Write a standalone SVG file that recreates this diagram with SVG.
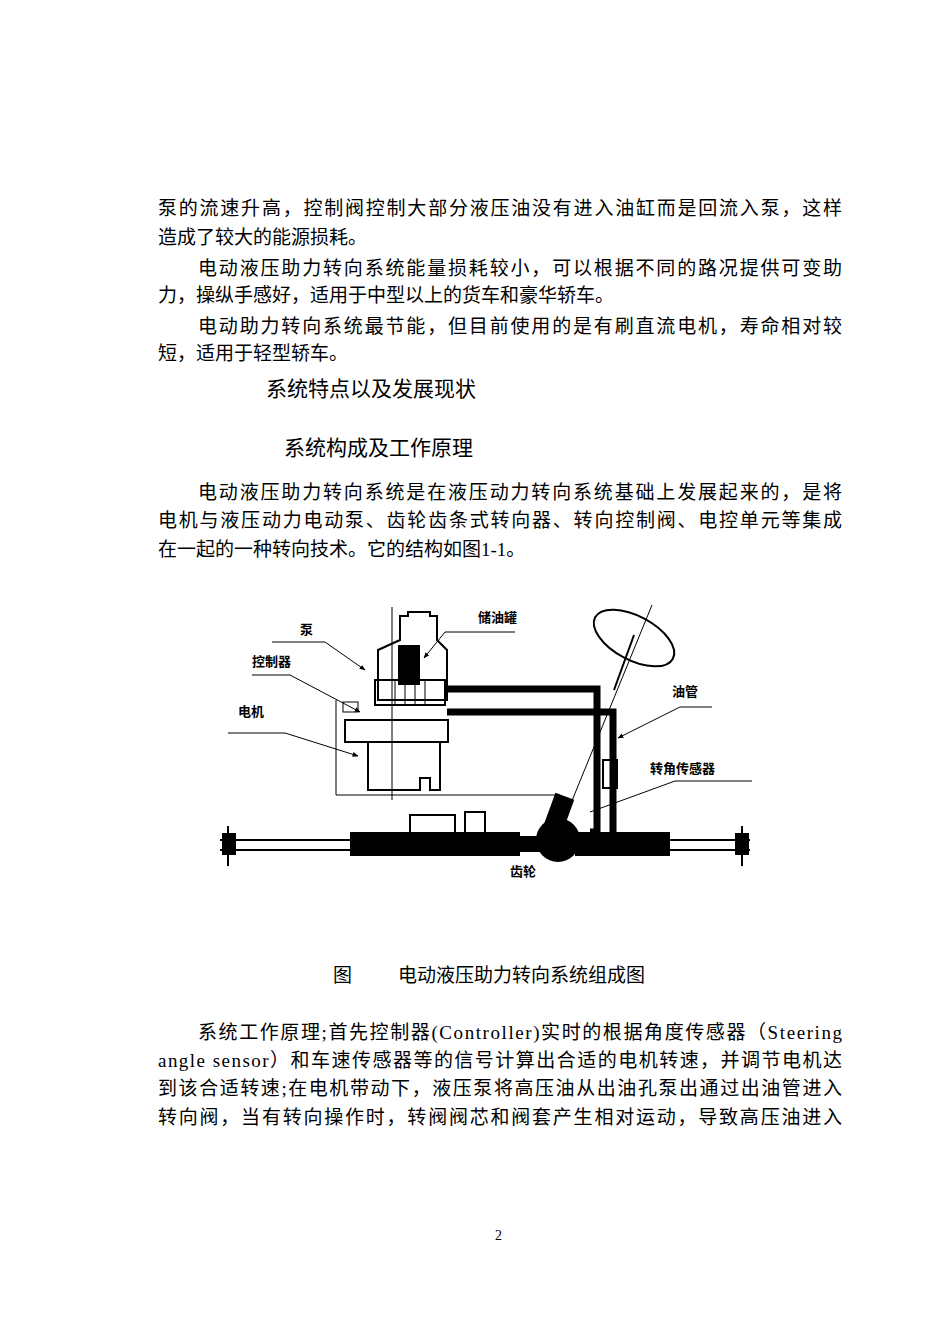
<svg xmlns="http://www.w3.org/2000/svg" width="950" height="1326" viewBox="0 0 950 1326">
<style>
.t{font-family:"Liberation Serif","Noto Sans CJK SC",serif;font-size:19px;fill:#000}
.h{font-family:"Noto Sans CJK SC",sans-serif;font-size:21px;fill:#000}
.l{font-family:"Noto Sans CJK SC",sans-serif;font-size:13px;font-weight:bold;fill:#000}
.k{fill:none;stroke:#000;stroke-width:2}
.p{fill:none;stroke:#000;stroke-width:7}
.n{fill:none;stroke:#000;stroke-width:1}
</style>
<defs><marker id="a" viewBox="0 0 10 10" refX="9" refY="5" markerWidth="6" markerHeight="6" orient="auto"><path d="M0,1 L10,5 L0,9z" fill="#000"/></marker></defs>
<rect width="950" height="1326" fill="#fff"/>
<g id="text">
<text class="t" x="158" y="215" textLength="684" lengthAdjust="spacing">泵的流速升高，控制阀控制大部分液压油没有进入油缸而是回流入泵，这样</text>
<text class="t" x="158" y="244">造成了较大的能源损耗。</text>
<text class="t" x="198" y="275" textLength="644" lengthAdjust="spacing">电动液压助力转向系统能量损耗较小，可以根据不同的路况提供可变助</text>
<text class="t" x="158" y="302">力，操纵手感好，适用于中型以上的货车和豪华轿车。</text>
<text class="t" x="198" y="333" textLength="644" lengthAdjust="spacing">电动助力转向系统最节能，但目前使用的是有刷直流电机，寿命相对较</text>
<text class="t" x="158" y="360">短，适用于轻型轿车。</text>
<text class="h" x="266" y="396">系统特点以及发展现状</text>
<text class="h" x="284" y="455">系统构成及工作原理</text>
<text class="t" x="198" y="499" textLength="644" lengthAdjust="spacing">电动液压助力转向系统是在液压动力转向系统基础上发展起来的，是将</text>
<text class="t" x="158" y="527" textLength="684" lengthAdjust="spacing">电机与液压动力电动泵、齿轮齿条式转向器、转向控制阀、电控单元等集成</text>
<text class="t" x="158" y="556">在一起的一种转向技术。它的结构如图1-1。</text>
<text class="t" x="333" y="982">图</text>
<text class="t" x="398" y="982">电动液压助力转向系统组成图</text>
<text class="t" x="198" y="1039" textLength="644" lengthAdjust="spacing">系统工作原理;首先控制器(Controller)实时的根据角度传感器（Steering</text>
<text class="t" x="158" y="1067" textLength="684" lengthAdjust="spacing">angle sensor）和车速传感器等的信号计算出合适的电机转速，并调节电机达</text>
<text class="t" x="158" y="1095" textLength="684" lengthAdjust="spacing">到该合适转速;在电机带动下，液压泵将高压油从出油孔泵出通过出油管进入</text>
<text class="t" x="158" y="1124" textLength="684" lengthAdjust="spacing">转向阀，当有转向操作时，转阀阀芯和阀套产生相对运动，导致高压油进入</text>
<text class="t" x="495" y="1240" style="font-size:14px">2</text>
</g>
<g id="figure">
<path class="k" d="M400,640 V616 H408 V612 H430 V616 H437 V640 L447,650 V700 H378 V650 Z"/>
<rect x="398" y="645" width="22" height="40" fill="#000"/>
<rect x="375" y="680" width="70" height="25" class="k"/>
<path class="n" d="M395,680 V705 M405,680 V705 M415,680 V705 M425,680 V705"/>
<rect x="343" y="702" width="15" height="10" class="n"/>
<rect x="345" y="720" width="103" height="22" class="k"/>
<path class="k" d="M368,742 V790 H420 V778 H430 V790 H440 V742"/>
<path class="n" d="M392,607 V800"/>
<path class="n" d="M336,700 V795 H560"/>
<path class="p" d="M447,689 H597 V832 H590"/>
<path class="p" d="M447,712 H613 V845 H585"/>
<rect x="603" y="760" width="14" height="28" class="k"/>
<ellipse cx="634" cy="638" rx="44" ry="22" transform="rotate(28 634 638)" class="k" stroke-width="5"/>
<path class="k" stroke-width="7" d="M634,635 L614,690"/>
<path class="n" d="M652,605 L560,830"/>
<path class="k" d="M220,840 H350 M220,850 H350"/>
<path d="M350,832 H520 V856 H350 Z" fill="#000"/>
<path d="M520,836 H560 V852 H520Z" fill="#000"/>
<circle cx="558" cy="840" r="22" fill="#000"/>
<rect x="548" y="795" width="20" height="40" fill="#000" transform="rotate(20 558 815)"/>
<path d="M575,832 H670 V856 H575Z" fill="#000"/>
<path class="k" d="M670,840 H750 M670,850 H750"/>
<rect x="222" y="833" width="14" height="22" fill="#000"/>
<rect x="735" y="833" width="14" height="22" fill="#000"/>
<path class="k" d="M228,826 V866 M742,826 V866"/>
<path class="k" stroke-width="4" d="M410,832 V815 H455 V832 M465,832 V812 H485 V832"/>
</g>
<g id="labels">
<text class="l" x="300" y="634">泵</text>
<text class="l" x="478" y="622">储油罐</text>
<text class="l" x="252" y="666">控制器</text>
<text class="l" x="238" y="716">电机</text>
<text class="l" x="672" y="696">油管</text>
<text class="l" x="650" y="773">转角传感器</text>
<text class="l" x="510" y="876">齿轮</text>
</g>
<g id="connectors">
<path class="n" marker-end="url(#a)" d="M272,642 H325 L365,670"/>
<path class="n" marker-end="url(#a)" d="M515,632 H445 L424,658"/>
<path class="n" marker-end="url(#a)" d="M252,675 H290 L360,712"/>
<path class="n" marker-end="url(#a)" d="M228,733 H285 L358,756"/>
<path class="n" marker-end="url(#a)" d="M712,707 H680 L618,738"/>
<path class="n" d="M752,781 H675 L590,812"/>
</g>
</svg>
